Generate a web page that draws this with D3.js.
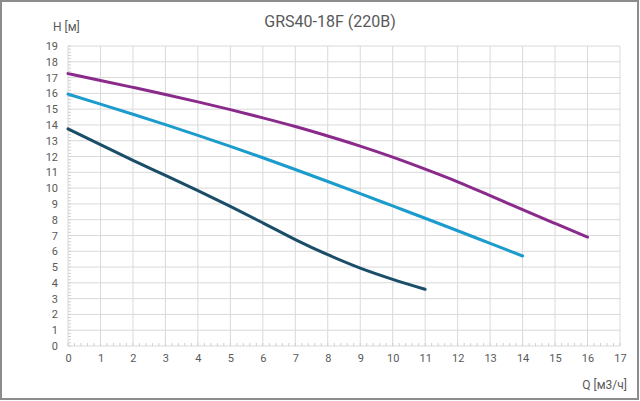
<!DOCTYPE html>
<html>
<head>
<meta charset="utf-8">
<script src="https://cdn.jsdelivr.net/npm/d3@7"></script>
<style>
  body { margin: 0; background: #fff; }
  svg text { font-family: Roboto, "Noto Sans", sans-serif; fill: #595959; }
</style>
</head>
<body>
<svg></svg>
<script>
(function () {
  'use strict';

  // flow, m3/h
  var flow = [0, 1, 2, 3, 4, 5, 6, 7, 8, 9, 10, 11, 12, 13, 14, 15, 16];
  // head, m (three speed curves)
  var headHigh = [17.25, 16.82, 16.38, 15.93, 15.46, 14.97, 14.45, 13.9, 13.3, 12.66, 11.96, 11.2, 10.4, 9.52, 8.63, 7.76, 6.9];
  var headMid = [15.95, 15.32, 14.68, 14.02, 13.34, 12.64, 11.92, 11.18, 10.42, 9.65, 8.87, 8.09, 7.3, 6.5, 5.7];
  var headLow = [13.75, 12.75, 11.76, 10.8, 9.84, 8.84, 7.8, 6.74, 5.78, 4.93, 4.22, 3.59];

  var xTicks = d3.range(0, 18);
  var yTicks = d3.range(0, 20);

  var seriesColors = ['#8a2b8c', '#1c9ccd', '#1a4e68'];

  var W = 640, H = 401;
  var svg = d3.select('svg')
      .attr('width', W)
      .attr('height', H);

  // outer frame
  svg.append('rect')
      .attr('x', 1).attr('y', 1)
      .attr('width', W - 3).attr('height', H - 3)
      .attr('fill', '#fff')
      .attr('stroke', '#8c8c8c')
      .attr('stroke-width', 2);

  var x = d3.scaleLinear().domain([0, 17]).range([68, 620]);
  var y = d3.scaleLinear().domain([0, 19]).range([346, 46]);

  // grid
  var grid = svg.append('g');
  grid.selectAll('line.v')
      .data(xTicks)
      .enter().append('line')
      .attr('x1', function (d) { return x(d); })
      .attr('x2', function (d) { return x(d); })
      .attr('y1', y(0)).attr('y2', y(19))
      .attr('stroke', '#d9d9d9').attr('stroke-width', 1);
  grid.selectAll('line.h')
      .data(yTicks)
      .enter().append('line')
      .attr('y1', function (d) { return y(d); })
      .attr('y2', function (d) { return y(d); })
      .attr('x1', x(0)).attr('x2', x(17))
      .attr('stroke', '#d9d9d9').attr('stroke-width', 1);

  // minor ticks, pointing inward
  var xMinor = d3.range(0, 17.01, 0.2);
  var yMinor = d3.range(0, 19.01, 0.2);
  grid.selectAll('line.mx')
      .data(xMinor)
      .enter().append('line')
      .attr('x1', function (d) { return x(d); })
      .attr('x2', function (d) { return x(d); })
      .attr('y1', y(0)).attr('y2', y(0) - 3)
      .attr('stroke', '#d0d0d0');
  grid.selectAll('line.my')
      .data(yMinor)
      .enter().append('line')
      .attr('y1', function (d) { return y(d); })
      .attr('y2', function (d) { return y(d); })
      .attr('x1', x(0)).attr('x2', x(0) + 3)
      .attr('stroke', '#d0d0d0');

  // axes labels via d3 axes (no lines)
  var xAxis = svg.append('g')
      .attr('transform', 'translate(0,' + (y(0) + 5) + ')')
      .call(d3.axisBottom(x).tickValues(xTicks).tickSize(0).tickPadding(3));
  var yAxis = svg.append('g')
      .attr('transform', 'translate(' + (x(0) - 10) + ',0)')
      .call(d3.axisLeft(y).tickValues(yTicks).tickSize(0).tickPadding(0));
  [xAxis, yAxis].forEach(function (a) {
    a.select('.domain').remove();
    a.selectAll('text')
        .style('font-family', 'Roboto, "Noto Sans", sans-serif')
        .style('font-size', '11px')
        .attr('fill', '#595959');
  });

  // curves
  var line = d3.line()
      .x(function (d) { return x(d[0]); })
      .y(function (d) { return y(d[1]); })
      .curve(d3.curveMonotoneX);

  [headHigh, headMid, headLow].forEach(function (heads, i) {
    var pts = heads.map(function (h, j) { return [flow[j], h]; });
    svg.append('path')
        .datum(pts)
        .attr('d', line)
        .attr('fill', 'none')
        .attr('stroke', seriesColors[i])
        .attr('stroke-width', 3)
        .attr('stroke-linecap', 'round');
  });

  // titles
  svg.append('text')
      .attr('x', 330).attr('y', 27)
      .attr('text-anchor', 'middle')
      .style('font-size', '16px')
      .text('GRS40-18F (220В)');
  svg.append('text')
      .attr('x', 53).attr('y', 31)
      .style('font-size', '12px')
      .text('H [м]');
  svg.append('text')
      .attr('x', 627).attr('y', 389)
      .attr('text-anchor', 'end')
      .style('font-size', '12px')
      .text('Q [м3/ч]');
} ());
</script>
</body>
</html>
